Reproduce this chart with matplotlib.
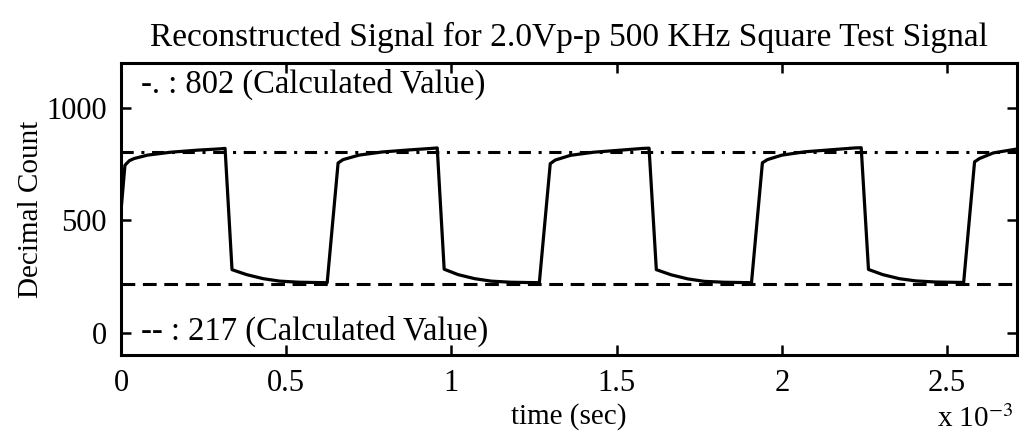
import numpy as np
import matplotlib
matplotlib.use('Agg')
import matplotlib.pyplot as plt

plt.rcParams['font.family'] = ['Liberation Serif', 'DejaVu Serif']
plt.rcParams['mathtext.fontset'] = 'stix'

# time in ms (scaled by 1e-3 on the axis), decimal count
time_ms = [0.000, 0.012, 0.025, 0.040, 0.080, 0.150, 0.230, 0.300, 0.315, 0.336,
           0.380, 0.430, 0.480, 0.540, 0.624,
           0.657, 0.672, 0.720, 0.790, 0.870, 0.940, 0.957, 0.978,
           1.020, 1.070, 1.120, 1.180, 1.266,
           1.299, 1.314, 1.360, 1.430, 1.510, 1.580, 1.598, 1.620,
           1.665, 1.715, 1.765, 1.825, 1.908,
           1.941, 1.956, 2.000, 2.070, 2.150, 2.220, 2.240, 2.262,
           2.305, 2.355, 2.405, 2.465, 2.550,
           2.583, 2.598, 2.640, 2.710]
count = [540, 745, 765, 775, 790, 803, 812, 818, 820, 280,
         258, 240, 229, 224, 222,
         755, 770, 790, 804, 813, 820, 822, 282,
         258, 240, 229, 224, 222,
         752, 768, 789, 803, 812, 820, 821, 280,
         257, 239, 228, 224, 222,
         756, 770, 790, 805, 814, 822, 823, 281,
         258, 240, 230, 225, 223,
         760, 775, 800, 817]

calc_high = 802
calc_low = 217
x_ticks = [0, 0.5, 1, 1.5, 2, 2.5]
x_ticklabels = ['0', '0.5', '1', '1.5', '2', '2.5']
y_ticks = [0, 500, 1000]

fig = plt.figure(figsize=(10.27, 4.41), dpi=100)
ax = fig.add_axes([0.1178, 0.195, 0.872, 0.662])

t = np.array(time_ms)
ax.plot(t, count, color='k', lw=2.3, solid_joinstyle='round')
ax.axhline(calc_high, color='k', lw=2.2, linestyle=(0, (4, 2.5, 1, 2.5)))
ax.axhline(calc_low, color='k', lw=2.2, linestyle=(0, (4.5, 2.5)))

ax.set_xlim(0, 2.71)
ax.set_ylim(-100, 1200)
ax.set_xticks(x_ticks)
ax.set_xticklabels(x_ticklabels)
ax.set_yticks(y_ticks)
ax.tick_params(direction='in', length=7, width=1.8, labelsize=22,
               top=True, right=True, pad=10)
for s in ax.spines.values():
    s.set_linewidth(2.2)

ax.text(0.06, 1107, '-. : %d (Calculated Value)' % calc_high,
        fontsize=23.5, va='center', ha='left')
ax.text(0.06, 5, '-- : %d (Calculated Value)' % calc_low,
        fontsize=23.5, va='center', ha='left')

ax.set_title('Reconstructed Signal for 2.0Vp-p 500 KHz Square Test Signal',
             fontsize=24, pad=12)
ax.set_xlabel('time (sec)', fontsize=21, labelpad=4)
ax.set_ylabel('Decimal Count', fontsize=21, labelpad=2)
fig.text(0.987, 0.018, r'x 10$^{-3}$', fontsize=21, ha='right', va='bottom')

fig.savefig('out.png', dpi=100)
